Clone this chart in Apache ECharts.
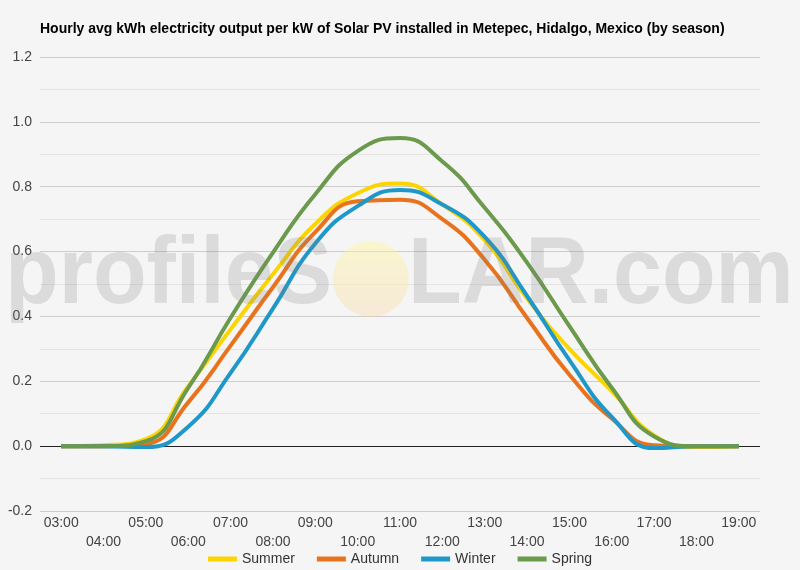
<!DOCTYPE html>
<html>
<head>
<meta charset="utf-8">
<script src="https://cdn.jsdelivr.net/npm/echarts@6/dist/echarts.min.js"></script>
<style>
  html, body { margin: 0; padding: 0; background: #f5f5f5; }
  #chart { width: 800px; height: 570px; }
</style>
</head>
<body>
<div id="chart"></div>
<script>
// hourly avg kWh per kW
var hours = ["03:00", "04:00", "05:00", "06:00", "07:00", "08:00", "09:00", "10:00", "11:00",
    "12:00", "13:00", "14:00", "15:00", "16:00", "17:00", "18:00", "19:00"];
var summer = [0, 0.003, 0.022, 0.185, 0.36, 0.53, 0.685, 0.78, 0.81, 0.745, 0.635, 0.455, 0.3, 0.17, 0.033, -0.003, 0];
var autumn = [0, 0, 0.007, 0.135, 0.31, 0.49, 0.66, 0.755, 0.76, 0.7, 0.575, 0.395, 0.22, 0.085, 0.003, 0, 0];
var winter = [0, 0, -0.003, 0.06, 0.226, 0.424, 0.625, 0.74, 0.79, 0.745, 0.645, 0.463, 0.265, 0.09, -0.006, 0, 0];
var spring = [0, 0, 0.015, 0.18, 0.396, 0.597, 0.777, 0.91, 0.95, 0.878, 0.735, 0.566, 0.37, 0.18, 0.03, 0, 0];
var yTicks = [-0.2, 0, 0.2, 0.4, 0.6, 0.8, 1.0, 1.2];

var seasonColors = {Summer: "#fcd500", Autumn: "#e8731c", Winter: "#1f98c9", Spring: "#6b9a4c"};
var font = "'Liberation Sans', Arial, sans-serif";
var markFill = "rgba(128,128,128,0.22)";

function mkSeries(name, data) {
    return {
        name: name, type: "line", data: data, smooth: 0.5,
        symbol: "none", lineStyle: {width: 4, color: seasonColors[name]},
        itemStyle: {color: seasonColors[name]}, z: 3
    };
}

// the zero line is drawn darker than the other grid lines
var splitColors = yTicks.map(function (v) { return v === 0 ? "#222" : "#cccccc"; });

var chart = echarts.init(document.getElementById("chart"));
chart.setOption({
    backgroundColor: "#f5f5f5",
    animation: false,
    textStyle: {fontFamily: font},
    title: {
        text: "Hourly avg kWh electricity output per kW of Solar PV installed in Metepec, Hidalgo, Mexico (by season)",
        left: 40, top: 22, padding: 0,
        textStyle: {fontSize: 14, fontWeight: "bold", color: "#000", fontFamily: font}
    },
    legend: {
        top: 552, left: "center", padding: 0,
        icon: "rect", itemWidth: 29, itemHeight: 5, itemGap: 22,
        textStyle: {fontSize: 14, color: "#333", fontFamily: font},
        data: ["Summer", "Autumn", "Winter", "Spring"]
    },
    grid: {left: 40, right: 40, top: 57, bottom: 59, containLabel: false},
    xAxis: {
        type: "category", data: hours, boundaryGap: true,
        axisLine: {show: false}, axisTick: {show: false},
        axisLabel: {
            interval: 0, color: "#444", fontSize: 14, margin: 3, lineHeight: 19,
            formatter: function (v, i) { return i % 2 ? "\n" + v : v; }
        },
        splitLine: {show: false}
    },
    yAxis: {
        type: "value", min: -0.2, max: 1.2, interval: 0.2,
        axisLine: {show: false}, axisTick: {show: false},
        axisLabel: {color: "#444", fontSize: 14, margin: 8, formatter: function (v) { return v.toFixed(1); }},
        splitLine: {lineStyle: {color: splitColors, width: 1}},
        minorTick: {show: false, splitNumber: 2},
        minorSplitLine: {show: true, lineStyle: {color: "#e4e4e4", width: 1}}
    },
    series: [
        mkSeries("Summer", summer),
        mkSeries("Autumn", autumn),
        mkSeries("Winter", winter),
        mkSeries("Spring", spring)
    ],
    graphic: [
        {
            type: "circle", shape: {cx: 371, cy: 279, r: 38}, z: 10, silent: true,
            style: {
                fill: new echarts.graphic.LinearGradient(0, 0, 0, 1, [
                    {offset: 0, color: "rgba(255,248,160,0.45)"},
                    {offset: 1, color: "rgba(250,215,170,0.4)"}
                ])
            }
        },
        {
            type: "text", x: 5, y: 277, scaleX: 0.935, z: 10, silent: true,
            style: {text: "profileS", fontSize: 94, fontWeight: "bold", fontFamily: font,
                fill: markFill, align: "left", verticalAlign: "middle"}
        },
        {
            type: "text", x: 408, y: 277, scaleX: 0.935, z: 10, silent: true,
            style: {text: "LAR.com", fontSize: 94, fontWeight: "bold", fontFamily: font,
                fill: markFill, align: "left", verticalAlign: "middle"}
        }
    ]
});
</script>
</body>
</html>
